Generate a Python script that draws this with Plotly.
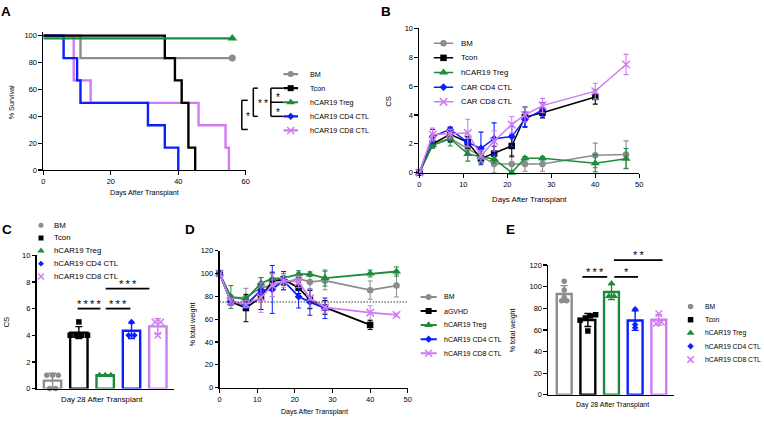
import numpy as np
import plotly.graph_objects as go

W, H = 764, 422
FONT = "Liberation Sans, Arial, sans-serif"

GRAY, BLACK, GREEN, BLUE, PINK = "#8C8C8C", "#000000", "#1E8B3C", "#0A1EFF", "#CF7CF2"
COLORS = [GRAY, BLACK, GREEN, BLUE, PINK]
SYMBOLS = ["circle", "square", "triangle-up", "diamond", "x-thin"]

# ---------------- Panel A : survival ----------------
A_names = ["BM", "Tcon", "hCAR19 Treg", "hCAR19 CD4 CTL", "hCAR19 CD8 CTL"]
A_bm_t = [0, 11, 56]
A_bm_s = [100, 83.3, 83.3]
A_tcon_t = [0, 36, 39, 41, 43, 45]
A_tcon_s = [100, 83.3, 66.7, 50, 16.7, 0]
A_treg_t = [0, 56]
A_treg_s = [98, 98]
A_cd4_t = [0, 6, 10, 11, 31, 36, 40]
A_cd4_s = [100, 83.3, 66.7, 50, 33.3, 16.7, 0]
A_cd8_t = [0, 9, 14, 46, 54, 55]
A_cd8_s = [100, 66.7, 50, 33.3, 16.7, 0]
A_xticks = [0, 20, 40, 60]
A_yticks = [0, 20, 40, 60, 80, 100]

# ---------------- Panel B : clinical score ----------------
B_names = ["BM", "Tcon", "hCAR19 Treg", "CAR CD4 CTL", "CAR CD8 CTL"]
B_days = [0, 3, 7, 11, 14, 17, 21, 24, 28, 40, 47]
B_bm = [0, 2.0, 2.4, 1.65, 1.15, 0.6, 0.6, 0.6, 0.6, 1.2, 1.25]
B_bm_err = [0, 0.3, 0.3, 0.4, 0.3, 0.6, 0.6, 0.5, 0.5, 0.85, 0.95]
B_tcon = [0, 2.0, 2.65, 2.1, 0.97, 1.33, 1.85, 3.85, 4.15, 5.25, None]
B_tcon_err = [0, 0.2, 0.5, 0.4, 0.3, 0.5, 0.75, 0.7, 0.35, 0.5, None]
B_treg = [0, 1.9, 2.35, 1.3, 1.1, 0.95, 0, 1.0, 1.0, 0.65, 0.97]
B_treg_err = [0, 0.2, 0.5, 0.5, 0.2, 0.3, 0, 0.12, 0.12, 0.6, 0.7]
B_cd4 = [0, 2.5, 3.0, 2.1, 1.68, 2.35, 2.5, 3.7, 4.35, None, None]
B_cd4_err = [0, 0.5, 0.15, 0.3, 1.13, 1.1, 0.7, 0.5, 0.5, None, None]
B_cd8 = [0, 2.65, 2.7, 2.75, 1.15, 2.2, 3.33, 4.0, 4.65, 5.65, 7.5]
B_cd8_err = [0, 0.45, 0.3, 0.95, 0.4, 0.7, 0.56, 0.5, 0.5, 0.55, 0.7]
B_xticks = [0, 10, 20, 30, 40, 50]
B_yticks = [0, 2, 4, 6, 8, 10]

# ---------------- Panel C : CS day 28 ----------------
C_names = ["BM", "Tcon", "hCAR19 Treg", "hCAR19 CD4 CTL", "hCAR19 CD8 CTL"]
C_bm = [1, 1, 1, 0, 0]
C_tcon = [5, 4, 4, 4, 4]
C_treg = [1, 1, 1]
C_cd4 = [5, 4, 4]
C_cd8 = [5, 5, 4]
C_yticks = [0, 2, 4, 6, 8, 10]
C_sig = [("****", 1, 2), ("***", 2, 3), ("***", 2, 4)]

# ---------------- Panel D : weight ----------------
D_names = ["BM", "aGVHD", "hCAR19 Treg", "hCAR19 CD4 CTL", "hCAR19 CD8 CTL"]
D_days = [0, 3, 7, 11, 14, 17, 21, 24, 28, 40, 47]
D_bm = [100, 78.9, 79, 87.4, 89.7, 91.7, 95.4, 92.6, 93.7, 85.4, 89.4]
D_bm_err = [0, 2, 8, 9, 10, 6, 5, 7, 8, 8, 10]
D_agvhd = [100, 75.4, 69.7, 79.4, 93.1, 94.9, 87.4, 77.1, 70.3, 54.9, None]
D_agvhd_err = [0, 3, 12, 11, 8, 5, 5, 8, 6, 4, None]
D_treg = [100, 79.4, 77.4, 91.4, 95.4, 96, 99.4, 99.4, 96, 100, 101.7]
D_treg_err = [0, 10, 2, 5, 5, 4, 3, 2, 7, 3, 4]
D_cd4 = [100, 75.4, 72.6, 85.1, 86, 93.7, 79.7, 74.9, 69.5, None, None]
D_cd4_err = [0, 3, 3, 7, 21, 8, 10, 11.5, 9, None, None]
D_cd8 = [100, 75.4, 73.1, 78.9, 89.7, 93.7, 92.6, 78.3, 70.3, 65.7, 63.7]
D_cd8_err = [0, 3, 3, 13, 10, 6, 5, 8, 5, 6, 1.5]
D_threshold = 75
D_xticks = [0, 10, 20, 30, 40, 50]
D_yticks = [0, 20, 40, 60, 80, 100, 120]

# ---------------- Panel E : weight day 28 ----------------
E_names = ["BM", "Tcon", "hCAR19 Treg", "hCAR19 CD4 CTL", "hCAR19 CD8 CTL"]
E_bm = [105, 97, 90, 87, 87]
E_tcon = [74, 73, 71, 69, 59]
E_treg = [103, 91, 91]
E_cd4 = [79, 65, 62]
E_cd8 = [75, 67, 66]
E_yticks = [0, 20, 40, 60, 80, 100, 120]
E_sig = [("***", 1, 2), ("*", 2, 3), ("**", 2, 4)]

# ======================================================================
fig = go.Figure()
layout = dict(width=W, height=H, margin=dict(l=0, r=0, t=0, b=0),
              paper_bgcolor="white", plot_bgcolor="rgba(0,0,0,0)",
              showlegend=False, barmode="overlay",
              font=dict(family=FONT, color="black", size=7.5))
annotations, shapes = [], []

# panel geometry (pixels) – style only
GEO = {
    1: dict(xpx=(41.7, 245.7), ypx=(169.7, 28.9), xr=[0, 60], yr=[0, 102.5]),
    2: dict(xpx=(420.7, 642.3), ypx=(172.3, 25.0), xr=[0, 50], yr=[0, 10]),
    3: dict(xpx=(35.0, 173.0), ypx=(393.0, 256.7), xr=[-0.6, 4.6], yr=[0, 10]),
    4: dict(xpx=(219.3, 409.0), ypx=(392.0, 252.0), xr=[0, 50], yr=[0, 120]),
    5: dict(xpx=(550.7, 677.0), ypx=(399.3, 266.7), xr=[-0.67, 4.63], yr=[0, 120]),
}


def d2px(k, x, y):
    g = GEO[k]
    (x0, x1), (yb, yt) = g["xpx"], g["ypx"]
    px = x0 + (x - g["xr"][0]) / (g["xr"][1] - g["xr"][0]) * (x1 - x0)
    py = yb - (y - g["yr"][0]) / (g["yr"][1] - g["yr"][0]) * (yb - yt)
    return px, py


def sfx(k):
    return "" if k == 1 else str(k)


AX = dict(showline=True, linecolor="black", linewidth=1.4, ticks="outside",
          ticklen=3.5, tickwidth=1.2, tickcolor="black", showgrid=False,
          zeroline=False, fixedrange=True, tickfont=dict(size=7.5, family=FONT))


def add_axes(k, xticks, yticks):
    g = GEO[k]
    s = sfx(k)
    xa = dict(AX, domain=[g["xpx"][0] / W, g["xpx"][1] / W], range=g["xr"], anchor="y" + s)
    if xticks is None:
        xa.update(ticks="", showticklabels=False)
    else:
        xa.update(tickmode="array", tickvals=xticks)
    ya = dict(AX, domain=[1 - g["ypx"][0] / H, 1 - g["ypx"][1] / H], range=g["yr"],
              anchor="x" + s, tickmode="array", tickvals=yticks)
    layout["xaxis" + s] = xa
    layout["yaxis" + s] = ya


add_axes(1, A_xticks, A_yticks)
add_axes(2, B_xticks, B_yticks)
add_axes(3, None, C_yticks)
add_axes(4, D_xticks, D_yticks)
add_axes(5, None, E_yticks)


def mk(i, size):
    if SYMBOLS[i] == "x-thin":
        return dict(symbol="x-thin", size=size + 1, color=COLORS[i],
                    line=dict(color=COLORS[i], width=1.5))
    extra = 1.5 if SYMBOLS[i] == "triangle-up" else 0
    if SYMBOLS[i] == "diamond":
        extra = -0.5
    return dict(symbol=SYMBOLS[i], size=size + extra, color=COLORS[i], line=dict(width=0))


def ax(k):
    return dict(xaxis="x" + sfx(k), yaxis="y" + sfx(k), hoverinfo="skip")


# ---------------- A traces ----------------
A_series = [(A_bm_t, A_bm_s), (A_tcon_t, A_tcon_s), (A_treg_t, A_treg_s),
            (A_cd4_t, A_cd4_s), (A_cd8_t, A_cd8_s)]
for i in [0, 4, 3, 1, 2]:
    t, s = A_series[i]
    fig.add_trace(go.Scatter(x=t, y=s, mode="lines",
                             line=dict(color=COLORS[i], width=2.4, shape="hv"), **ax(1)))
    if s[-1] > 0:
        fig.add_trace(go.Scatter(x=[t[-1]], y=[s[-1]], mode="markers", marker=mk(i, 7),
                                 cliponaxis=False, **ax(1)))

# ---------------- B traces ----------------
B_series = [(B_bm, B_bm_err), (B_tcon, B_tcon_err), (B_treg, B_treg_err),
            (B_cd4, B_cd4_err), (B_cd8, B_cd8_err)]
for i, (v, e) in enumerate(B_series):
    fig.add_trace(go.Scatter(
        x=B_days, y=v, mode="lines+markers", cliponaxis=False,
        line=dict(color=COLORS[i], width=1.5), marker=mk(i, 6.5),
        error_y=dict(type="data", array=e, color=COLORS[i], thickness=1.1, width=2.5),
        **ax(2)))

# ---------------- D traces ----------------
shapes.append(dict(type="line", xref="x4 domain", yref="y4", x0=0, x1=1,
                   y0=D_threshold, y1=D_threshold,
                   line=dict(color="black", width=1.1, dash="1.2px,1.8px")))
D_series = [(D_bm, D_bm_err), (D_agvhd, D_agvhd_err), (D_treg, D_treg_err),
            (D_cd4, D_cd4_err), (D_cd8, D_cd8_err)]
for i, (v, e) in enumerate(D_series):
    fig.add_trace(go.Scatter(
        x=D_days, y=v, mode="lines+markers", cliponaxis=False,
        line=dict(color=COLORS[i], width=1.8), marker=mk(i, 6.5),
        error_y=dict(type="data", array=e, color=COLORS[i], thickness=1.0, width=2.5),
        **ax(4)))


# ---------------- C / E bar + dot traces ----------------
def spread(vals, tol, step):
    order = np.argsort(vals, kind="stable")
    offs = np.zeros(len(vals))
    clusters, cur = [], [order[0]]
    for a, b in zip(order[:-1], order[1:]):
        if vals[b] - vals[a] <= tol:
            cur.append(b)
        else:
            clusters.append(cur)
            cur = [b]
    clusters.append(cur)
    for c in clusters:
        n = len(c)
        for j, idx in enumerate(c):
            offs[idx] = (j - (n - 1) / 2) * step
    return offs


def bar_panel(k, groups, tol, step, width, msize):
    for i, v in enumerate(groups):
        v = list(v)
        m = float(np.mean(v))
        sd = float(np.std(v, ddof=1))
        fig.add_trace(go.Bar(
            x=[i], y=[m], width=width,
            marker=dict(color="white", line=dict(color=COLORS[i], width=2.4)),
            error_y=dict(type="data", array=[sd], color=COLORS[i], thickness=1.4, width=3.5),
            **ax(k)))
        offs = spread(v, tol, step)
        fig.add_trace(go.Scatter(x=[i + o for o in offs], y=v, mode="markers",
                                 marker=mk(i, msize), cliponaxis=False, **ax(k)))


bar_panel(3, [C_bm, C_tcon, C_treg, C_cd4, C_cd8], 0.3, 0.22, 0.66, 5.5)
bar_panel(5, [E_bm, E_tcon, E_treg, E_cd4, E_cd8], 2.5, 0.22, 0.63, 5.5)


# ---------------- significance marks ----------------
def star_text(s):
    return "\u2009".join(list(s))


def star_ann(px, py, s, size=11):
    annotations.append(dict(x=px / W, y=1 - (py + 0.226 * size) / H, xref="paper", yref="paper",
                            text=star_text(s), showarrow=False, xanchor="center", yanchor="middle",
                            font=dict(size=size, family=FONT, color="black")))


def hline(x0, x1, py, w=1.8):
    shapes.append(dict(type="line", xref="paper", yref="paper", x0=x0 / W, x1=x1 / W,
                       y0=1 - py / H, y1=1 - py / H, line=dict(color="black", width=w)))


def vline(px, y0, y1, w=1.5):
    shapes.append(dict(type="line", xref="paper", yref="paper", x0=px / W, x1=px / W,
                       y0=1 - y0 / H, y1=1 - y1 / H, line=dict(color="black", width=w)))


# C: line extents relative to bar centres (style)
C_sig_geo = [(-0.05, -0.18, 6.0), (0.02, -0.04, 6.0), (0.02, -0.32, 7.5)]
for (txt, a, b), (oa, ob, yv) in zip(C_sig, C_sig_geo):
    x0, py = d2px(3, a + oa, yv)
    x1, _ = d2px(3, b + ob, yv)
    hline(x0, x1, py)
    star_ann((x0 + x1) / 2, py - 7.2, txt)

E_sig_geo = [(-0.23, -0.18, 109), (0.12, 0.12, 109), (0.1, 0.16, 124.5)]
for (txt, a, b), (oa, ob, yv) in zip(E_sig, E_sig_geo):
    x0, py = d2px(5, a + oa, yv)
    x1, _ = d2px(5, b + ob, yv)
    hline(x0, x1, py)
    star_ann((x0 + x1) / 2, py - 7.4, txt)

# ---------------- legends (helper axes) ----------------
LEG = {
    6: dict(names=A_names, x0=283.5, L=15.0, tx=308.0, y0=71.6, dy=14.4, fs=7.2, ms=6, line=2.2),
    7: dict(names=B_names, x0=435.0, L=20.0, tx=461.0, y0=40.0, dy=15.0, fs=7.8, ms=6.5, line=1.5),
    8: dict(names=C_names, x0=36.3, L=6.0, tx=50.0, y0=226.0, dy=13.1, fs=7.8, ms=5, line=0),
    9: dict(names=D_names, x0=421.7, L=16.6, tx=443.3, y0=299.3, dy=14.4, fs=7.0, ms=6, line=2.0),
    10: dict(names=E_names, x0=691.0, L=6.0, tx=707.0, y0=309.0, dy=13.6, fs=6.8, ms=5.5, line=0),
}
for k, g in LEG.items():
    s = str(k)
    n = len(g["names"])
    layout["xaxis" + s] = dict(domain=[g["x0"] / W, (g["x0"] + g["L"]) / W], range=[0, 1],
                               visible=False, fixedrange=True, anchor="y" + s)
    ytop = g["y0"] - g["dy"] / 2
    ybot = g["y0"] + (n - 0.5) * g["dy"]
    layout["yaxis" + s] = dict(domain=[1 - ybot / H, 1 - ytop / H], range=[n - 0.5, -0.5],
                               visible=False, fixedrange=True, anchor="x" + s)
    for i, name in enumerate(g["names"]):
        if g["line"] > 0:
            fig.add_trace(go.Scatter(x=[0, 1], y=[i, i], mode="lines",
                                     line=dict(color=COLORS[i], width=g["line"]),
                                     xaxis="x" + s, yaxis="y" + s, hoverinfo="skip"))
        fig.add_trace(go.Scatter(x=[0.5], y=[i], mode="markers", marker=mk(i, g["ms"]),
                                 cliponaxis=False, xaxis="x" + s, yaxis="y" + s, hoverinfo="skip"))
        annotations.append(dict(x=g["tx"] / W, y=i, xref="paper", yref="y" + s, text=name,
                                showarrow=False, xanchor="left", yanchor="middle",
                                font=dict(size=g["fs"], family=FONT, color="black")))

# ---------------- A significance brackets ----------------
yA = [LEG[6]["y0"] + j * LEG[6]["dy"] for j in range(5)]
# E-shaped bracket: Tcon / Treg / CD4
vline(271.0, yA[1], yA[3])
for j in (1, 2, 3):
    hline(271.0, 283.5, yA[j], 1.5)
star_ann(277.7, (yA[1] + yA[2]) / 2, "*", 10)
star_ann(277.7, (yA[2] + yA[3]) / 2 + 0.5, "*", 10)
# Tcon vs CD4
vline(253.3, yA[1], yA[3])
hline(253.3, 257.8, yA[1], 1.5)
hline(253.3, 257.8, yA[3], 1.5)
star_ann(263.0, yA[2] - 0.5, "**", 10)
# Treg vs CD8
vline(241.7, yA[2] - 2, yA[4] - 1)
hline(241.7, 247.7, yA[2] - 2, 1.5)
hline(241.7, 247.7, yA[4] - 1, 1.5)
star_ann(248.3, (yA[2] + yA[4]) / 2 - 2, "*", 10)


# ---------------- titles and panel letters ----------------
def text(px, py, t, size=7.5, angle=0, bold=False):
    annotations.append(dict(x=px / W, y=1 - py / H, xref="paper", yref="paper",
                            text="<b>%s</b>" % t if bold else t, showarrow=False,
                            xanchor="center", yanchor="middle", textangle=angle,
                            font=dict(size=size, family=FONT, color="black")))


text(143.8, 193.0, "Days After Transplant", 7.2)
text(9.5, 100.0, "% Survival", 7.2, -90)
text(532.0, 200.0, "Days After Transplant", 7.8)
text(390.0, 99.0, "CS", 7.8, -90)
text(101.0, 404.5, "Day 28 After Transplant", 7.8)
text(4.5, 325.0, "CS", 7.8, -90)
text(314.7, 417.0, "Days After Transplant", 7.0)
text(192.0, 326.7, "% total weight", 7.0, -90)
text(615.0, 409.3, "Day 28 After Transplant", 7.0)
text(515.0, 333.3, "% total weight", 7.0, -90)

for lab, px, py in [("A", 4.5, 7.2), ("B", 387.5, 7.5), ("C", 5.3, 230.0),
                    ("D", 189.7, 230.0), ("E", 513.0, 230.0)]:
    text(px, py, lab, 13.5, 0, True)

layout["annotations"] = annotations
layout["shapes"] = shapes
fig.update_layout(**layout)
fig.write_html("out.html",
               config={"displayModeBar": False, "staticPlot": True},
               post_script="document.body.style.margin='0';"
                           "document.body.style.padding='0';"
                           "document.body.style.overflow='hidden';")
